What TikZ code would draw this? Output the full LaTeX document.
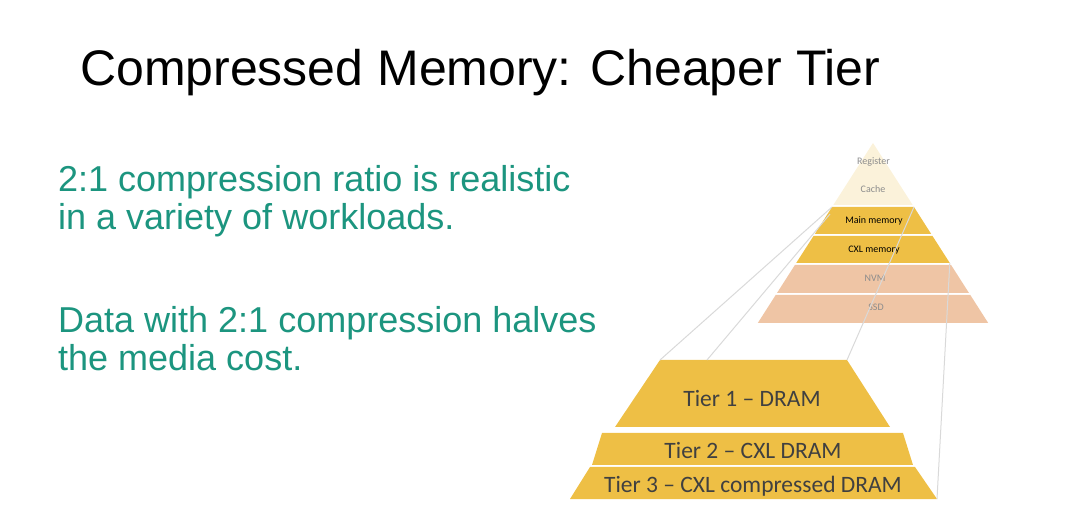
\documentclass[tikz,border=0pt]{standalone}
\usepackage{fontspec}
\setmainfont{Liberation Sans}
\newfontfamily\calibri{Carlito}
\definecolor{slideteal}{HTML}{1C957F}
\definecolor{tiergold}{HTML}{EEBF45}
\definecolor{cachecream}{HTML}{FBF2DA}
\definecolor{storepeach}{HTML}{EFC5A5}
\definecolor{zoomline}{HTML}{D9D9D9}
\definecolor{tiertext}{HTML}{404040}
\definecolor{fadetext}{HTML}{8C8C8C}

\begin{document}
\begin{tikzpicture}[x=1pt,y=-1pt,
    bullet/.style={anchor=north west,inner sep=0pt,align=left,text=slideteal,
      font=\fontsize{36}{38.5}\selectfont},
    smalllabel/.style={anchor=base,inner sep=0pt,font=\calibri\fontsize{10}{12}\selectfont},
    tierlabel/.style={anchor=base,inner sep=0pt,text=tiertext,font=\calibri\fontsize{23.5}{28}\selectfont},
    zoom/.style={draw=zoomline,line width=1pt}]
    \useasboundingbox (0,0) rectangle (1080,529);

    \node[anchor=base west,inner sep=0pt,font=\fontsize{50}{60}\selectfont] (title) at (80,86) {Compressed Memory: Cheaper Tier};

    \node[bullet] (ratio) at (58,165) {2:1 compression ratio is realistic\\in a variety of workloads.};
    \node[bullet] (halves) at (58,306) {Data with 2:1 compression halves\\the media cost.};

    % small hierarchy
    \coordinate (apex) at (873,143);
    \coordinate (mm-tl) at (832,207);
    \coordinate (mm-tr) at (914,207);
    \coordinate (cxl-bl) at (796.2,263);
    \coordinate (cxl-br) at (949.8,263);
    \fill[cachecream] (apex) -- (912.7,205) -- (833.3,205) -- cycle;
    \fill[tiergold] (mm-tl) -- (mm-tr) -- (931.2,234) -- (814.8,234) -- cycle;
    \fill[tiergold] (813.5,236) -- (932.5,236) -- (cxl-br) -- (cxl-bl) -- cycle;
    \fill[storepeach] (794.9,265) -- (951.1,265) -- (969,293) -- (777,293) -- cycle;
    \fill[storepeach] (775.7,295) -- (970.3,295) -- (988.2,323) -- (757.8,323) -- cycle;

    \node[smalllabel,text=fadetext] (reg) at (873.5,165) {Register};
    \node[smalllabel,text=fadetext] (cache) at (873,193) {Cache};
    \node[smalllabel] (mainmem) at (874,224) {Main memory};
    \node[smalllabel] (cxlmem) at (874,253) {CXL memory};
    \node[smalllabel,text=fadetext] (nvm) at (875,282) {NVM};
    \node[smalllabel,text=fadetext] (ssd) at (876,311) {SSD};

    % zoomed tiers
    \coordinate (t1-tl) at (660,360);
    \coordinate (t1-tr) at (847,360);
    \coordinate (t1-mid) at (707,360);
    \coordinate (t3-br) at (937,499);
    \fill[tiergold] (t1-tl) -- (t1-tr) -- (890,427) -- (615,427) -- cycle;
    \fill[tiergold] (602,433) -- (903,433) -- (913,465) -- (592,465) -- cycle;
    \fill[tiergold] (590,467) -- (915,467) -- (t3-br) -- (570,499) -- cycle;

    \node[tierlabel] (tier1) at (752,406.7) {Tier 1 – DRAM};
    \node[tierlabel] (tier2) at (753,459) {Tier 2 – CXL DRAM};
    \node[tierlabel] (tier3) at (753,492.3) {Tier 3 – CXL compressed DRAM};

    \draw[zoom] (mm-tl) -- (t1-tl);
    \draw[zoom] ([shift={(-2,7)}]mm-tl) -- (t1-mid);
    \draw[zoom] (mm-tr) -- (t1-tr);
    \draw[zoom] (cxl-br) -- (t3-br);
\end{tikzpicture}
\end{document}
